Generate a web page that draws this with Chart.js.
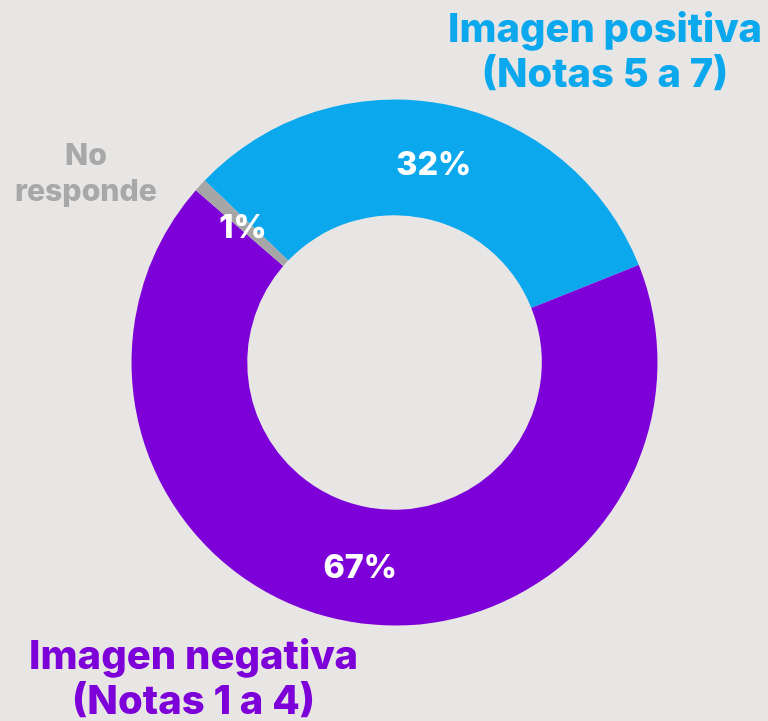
<!DOCTYPE html>
<html><head><meta charset="utf-8">
<script src="https://cdn.jsdelivr.net/npm/chart.js@4.4.1/dist/chart.umd.min.js"></script>
<style>html,body{margin:0;padding:0;background:#e8e6e4;overflow:hidden}#wrap{width:768px;height:721px;position:relative}</style>
</head><body><div id="wrap"><canvas id="c" width="768" height="721"></canvas></div>
<script>
const categories = ['Imagen positiva (Notas 5 a 7)', 'Imagen negativa (Notas 1 a 4)', 'No responde'];
const categoryLines = [['Imagen positiva', '(Notas 5 a 7)'], ['Imagen negativa', '(Notas 1 a 4)'], ['No', 'responde']];
const values = [31.8, 67.4, 0.8];
const valueLabels = values.map(v => Math.round(v) + '%');
const segmentColors = ['#0ba8ee', '#7d00d9', '#a6a6a6'];
const textColors = ['#0ba8ee', '#7d00d9', '#a8a8a8'];

const FAMILY = 'Inter, "Open Sans", sans-serif';
const WEIGHT = '800';

function fitSize(ctx, text, targetW) {
  ctx.font = WEIGHT + ' 100px ' + FAMILY;
  return 100 * targetW / ctx.measureText(text).width;
}

const catLayout = [
  {x: 605, y: 42, gap: 45, fitW: 314, fitLine: 0},
  {x: 193.5, y: 669, gap: 45, fitW: 329, fitLine: 0},
  {x: 86, y: 165, gap: 36, fitW: 142, fitLine: 1}
];

const bgPlugin = {
  id: 'bg',
  beforeDraw(chart) {
    const ctx = chart.ctx;
    ctx.save();
    ctx.fillStyle = '#e8e6e4';
    ctx.fillRect(0, 0, chart.width, chart.height);
    ctx.restore();
  }
};

const labelPlugin = {
  id: 'labels',
  afterDatasetsDraw(chart) {
    const ctx = chart.ctx;
    const meta = chart.getDatasetMeta(0);
    ctx.save();
    const pSize = fitSize(ctx, '32%', 75);
    ctx.font = WEIGHT + ' ' + pSize + 'px ' + FAMILY;
    ctx.fillStyle = '#ffffff';
    ctx.textAlign = 'center';
    ctx.textBaseline = 'alphabetic';
    meta.data.forEach((arc, i) => {
      const p = arc.tooltipPosition(true);
      ctx.fillText(valueLabels[i], p.x, p.y + 13.5);
    });
    categoryLines.forEach((lines, i) => {
      const L = catLayout[i];
      const s = fitSize(ctx, lines[L.fitLine], L.fitW);
      ctx.font = WEIGHT + ' ' + s + 'px ' + FAMILY;
      ctx.fillStyle = textColors[i];
      lines.forEach((t, j) => ctx.fillText(t, L.x, L.y + j * L.gap));
    });
    ctx.restore();
  }
};

new Chart(document.getElementById('c'), {
  type: 'doughnut',
  data: {
    labels: categories,
    datasets: [{
      data: values,
      backgroundColor: segmentColors,
      borderWidth: 0,
      hoverOffset: 0
    }]
  },
  options: {
    responsive: false,
    animation: false,
    rotation: -46.2,
    cutout: '56%',
    layout: {padding: {left: 131.5, right: 110.5, top: 99.3, bottom: 95.4}},
    plugins: {legend: {display: false}, tooltip: {enabled: false}}
  },
  plugins: [bgPlugin, labelPlugin]
});
</script>
</body></html>
